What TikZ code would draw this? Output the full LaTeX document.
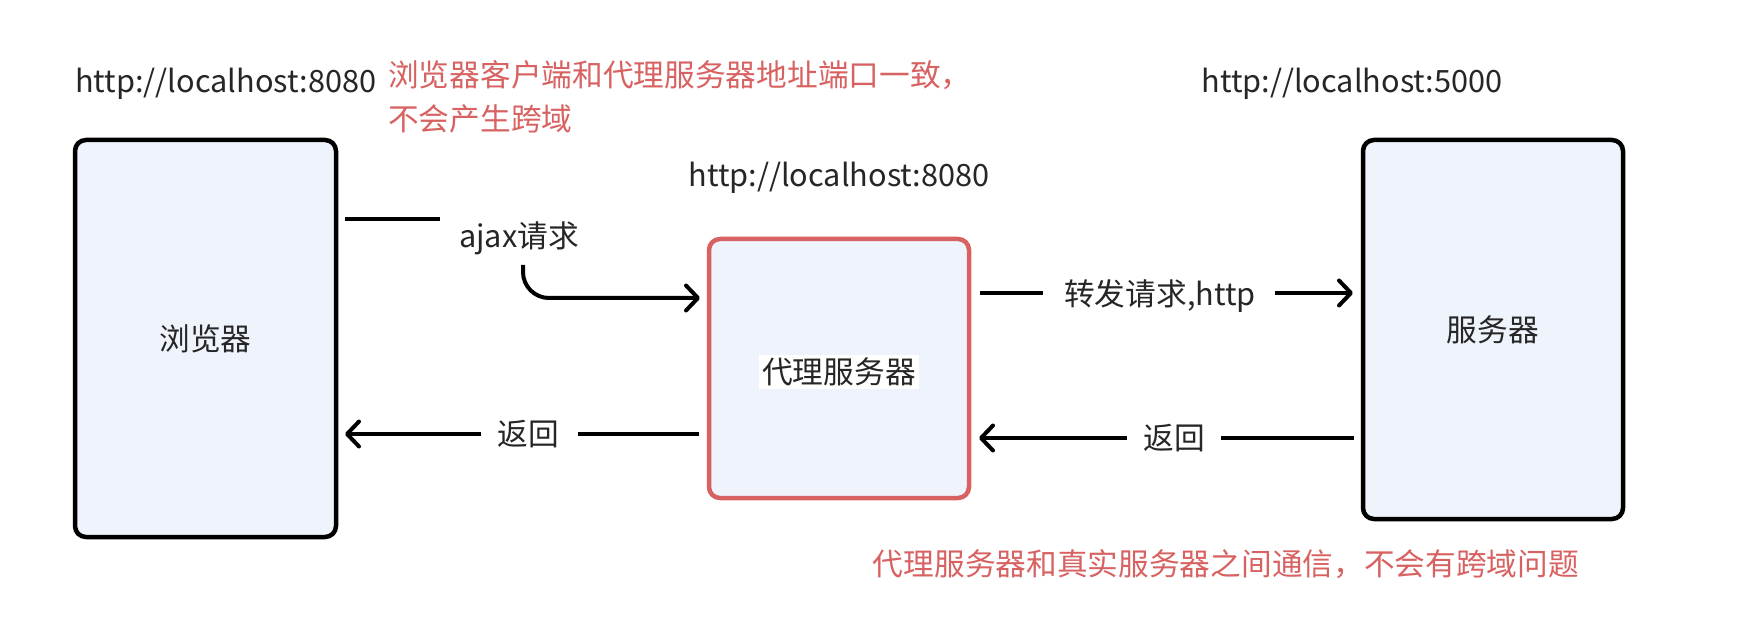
\documentclass[tikz,border=0pt]{standalone}
\usepackage{fontspec}
\setmainfont{Noto Sans CJK SC}
\usetikzlibrary{arrows.meta}
\definecolor{boxfill}{HTML}{EFF4FC}
\definecolor{redc}{HTML}{D86262}
\definecolor{txt}{HTML}{262626}
\begin{document}
\begin{tikzpicture}[x=1pt,y=-1pt,
  box/.style={draw=black, line width=4.5pt, fill=boxfill, rounded corners=11pt, inner sep=0pt, font=\fontsize{30.7}{36}\selectfont, text=txt},
  lbl/.style={font=\fontsize{30.7}{36}\selectfont, text=txt, inner sep=0pt},
  note/.style={font=\fontsize{30.7}{44}\selectfont, text=redc, inner sep=0pt, align=left},
  conn/.style={line width=4pt, draw=black},
  arr/.style={conn, -{Straight Barb[length=12pt, width=25pt, round]}}]
\useasboundingbox[fill=white] (0,0) rectangle (1762,636);

% boxes
\node[box, minimum width=261pt, minimum height=397pt] (browser) at (205.5,338.5) {浏览器};
\node[box, draw=redc, minimum width=260pt, minimum height=259pt] (proxy) at (839,368.5) {};
\node[lbl, fill=white, inner sep=3pt] (plabel) at (839,372) {代理服务器};
\node[box, minimum width=260pt, minimum height=379pt] (server) at (1493,329.5) {服务器};

% address labels
\node[lbl, anchor=west] (url1) at (75,84) {http://localhost:8080};
\node[lbl] (url2) at (839,178) {http://localhost:8080};
\node[lbl] (url3) at (1352,84) {http://localhost:5000};

% notes
\node[note, anchor=west] (note1) at (388,97) {浏览器客户端和代理服务器地址端口一致，\\不会产生跨域};
\node[note] (note2) at (1226,564) {代理服务器和真实服务器之间通信，不会有跨域问题};

% connector labels
\node[lbl] (ajax) at (519,238) {ajax请求};
\node[lbl] (fwd) at (1160,296) {转发请求,http};
\node[lbl] (ret1) at (1174,438) {返回};
\node[lbl] (ret2) at (528,434) {返回};

% ajax request
\coordinate (a1) at (345,219);
\coordinate (a2) at (440,219);
\coordinate (a3) at (523,265);
\coordinate (a4) at (700,298);
\draw[conn] (a1) -- (a2);
\draw[arr, rounded corners=26pt] (a3) |- (a4);

% forward request
\coordinate (f1) at (980,293);
\coordinate (f2) at (1043,293);
\coordinate (f3) at (1275,293);
\coordinate (f4) at (1353,293);
\draw[conn] (f1) -- (f2);
\draw[arr] (f3) -- (f4);

% server returns
\coordinate (r1) at (1354,438);
\coordinate (r2) at (1221,438);
\coordinate (r3) at (1127,438);
\coordinate (r4) at (979,438);
\draw[conn] (r1) -- (r2);
\draw[arr] (r3) -- (r4);

% proxy returns
\coordinate (s1) at (699,434);
\coordinate (s2) at (578,434);
\coordinate (s3) at (481,434);
\coordinate (s4) at (345,434);
\draw[conn] (s1) -- (s2);
\draw[arr] (s3) -- (s4);
\end{tikzpicture}
\end{document}
